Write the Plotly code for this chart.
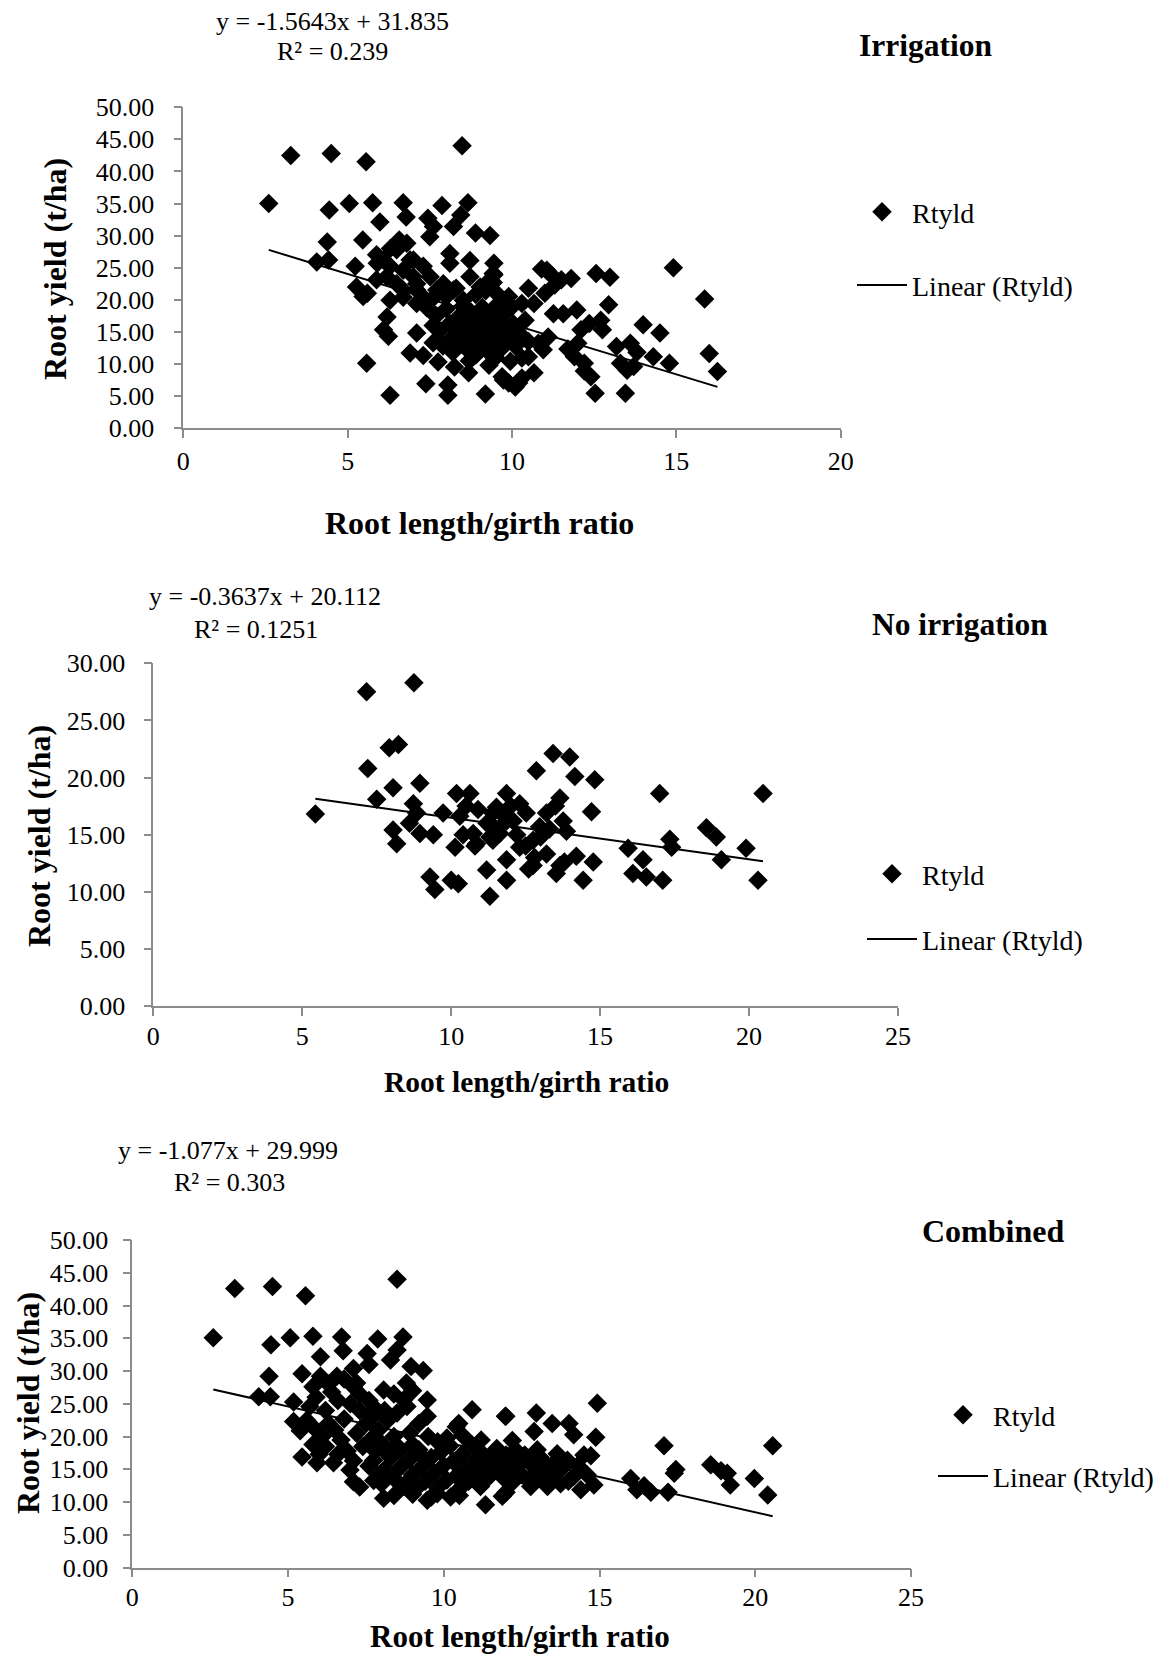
import plotly.graph_objects as go

W, H = 1171, 1658

# ---------------- data ----------------
# Irrigation (panel 1)
irr_x = [2.6, 3.27, 4.5, 5.56, 8.48, 4.44, 5.05, 5.76, 6.69, 7.87, 8.66,
         5.98, 6.78, 7.44, 8.22, 8.44, 8.89, 9.33, 4.38, 5.46, 4.06, 4.42, 5.23, 5.27, 5.47,
         8.11, 8.72, 9.45, 9.45, 6.57, 6.8, 6.3, 5.9, 5.6,
         6.09, 6.24, 5.58, 6.29, 7.38, 8.05, 9.19, 8.68, 8.05,
         7.1, 6.9, 7.3, 7.6, 9.74, 10.1,
         5.88, 6.09, 6.29, 6.49, 6.19, 5.88, 6.49, 6.69, 6.9, 7.0, 7.1, 6.69, 6.29, 6.2,
         7.0, 7.3, 7.51, 7.1, 6.69, 7.3, 7.71, 7.91, 8.11, 8.72, 9.03, 9.33, 9.53, 9.74,
         8.22, 8.52, 7.51, 7.1, 7.61, 7.5,
         7.7, 7.8, 7.9, 8.0, 8.1, 8.15, 8.2, 8.35, 8.4, 8.45, 8.5, 8.55, 8.6, 8.65, 8.75,
         8.8, 8.85, 8.9, 8.95, 9.0, 9.05, 9.1, 9.15, 9.2, 9.25, 9.35, 9.4, 9.45, 9.5, 9.55,
         9.6, 9.65, 9.7, 9.8, 9.85, 9.9, 9.95, 10.0, 10.05, 10.1, 10.2, 10.3, 10.4, 10.5,
         7.6, 7.75, 8.25, 8.7, 9.3, 7.4, 7.55, 8.0, 8.3, 8.9, 9.2,
         11.06, 10.9, 11.15, 12.56, 12.98, 14.91, 15.86, 16.0, 16.25, 13.99, 14.5, 14.79,
         14.3, 13.45, 12.53, 12.4, 12.2, 13.18, 13.6, 13.8, 13.7, 13.3, 13.5, 12.94, 12.7,
         12.75, 11.97, 11.56, 11.26, 12.35, 12.1, 12.0, 11.7, 11.9, 12.2, 11.5, 11.8, 11.3,
         11.0, 10.5, 10.67, 10.3, 9.9, 9.43, 9.43, 11.1, 10.8, 10.95, 10.5, 10.67, 10.2,
         9.7, 9.9, 10.3]
irr_y = [35.0, 42.5, 42.8, 41.5, 44.0, 34.0, 35.0, 35.1, 35.1, 34.7, 35.1,
         32.1, 32.9, 32.7, 31.4, 33.2, 30.4, 30.0, 29.0, 29.3, 25.9, 26.2, 25.2, 22.0, 20.5,
         27.2, 26.1, 25.7, 23.9, 29.3, 28.8, 28.0, 25.7, 21.0,
         15.3, 14.3, 10.1, 5.1, 6.9, 5.1, 5.3, 8.6, 6.7,
         14.8, 11.7, 11.3, 13.3, 7.5, 6.4,
         27.0, 26.2, 25.2, 27.8, 23.6, 23.1, 22.5, 24.6, 26.2, 23.6, 21.5, 20.4, 19.9, 17.3,
         26.2, 25.2, 23.6, 22.5, 21.5, 20.4, 21.5, 22.5, 25.7, 23.6, 22.0, 23.1, 21.0, 19.4,
         21.5, 19.9, 18.3, 19.4, 31.4, 29.8,
         17.5, 15.2, 12.8, 18.6, 16.3, 14.0, 11.8, 17.2, 15.5, 13.1, 19.0, 16.8, 14.6, 12.2, 18.1,
         15.9, 13.7, 11.4, 17.3, 15.1, 13.0, 18.8, 16.4, 14.2, 12.0, 17.6, 15.4, 13.4, 11.0, 19.2,
         16.6, 14.5, 12.5, 17.9, 15.7, 13.6, 10.4, 18.9, 16.2, 12.8, 14.9, 10.9, 16.8, 13.5,
         16.0, 10.3, 9.5, 10.5, 9.8, 18.8, 20.0, 20.5, 21.8, 20.8, 21.4,
         24.6, 24.8, 24.1, 24.1, 23.5, 25.0, 20.1, 11.6, 8.8, 16.1, 14.8, 10.1,
         11.1, 5.4, 5.4, 8.0, 8.9, 12.7, 13.2, 11.8, 9.6, 10.1, 9.0, 19.2, 16.8,
         15.3, 18.4, 17.8, 17.8, 16.3, 15.3, 13.2, 12.3, 11.1, 10.1, 23.1, 23.3, 22.3,
         21.0, 21.8, 19.4, 19.4, 20.5, 24.1, 22.7, 14.2, 13.2, 12.2, 11.1, 8.6, 7.0,
         8.0, 7.0, 7.8]

# No irrigation (panel 2)
noirr_x = [5.44, 7.16, 8.75, 7.92, 8.23, 7.2, 8.95, 8.05, 7.5, 8.73, 8.84, 8.6, 8.05, 8.17,
           8.95, 9.4, 9.29, 9.45, 10.0, 10.24, 10.13, 10.18, 10.63, 11.86, 9.73, 10.29,
           10.74, 10.85, 11.3, 11.19, 11.3, 11.86, 11.86, 11.52, 11.86,
           13.42, 13.98, 12.86, 14.15, 14.82, 13.65, 14.71, 17.0, 20.47, 15.94, 17.34, 17.4,
           18.57, 18.9, 19.9, 19.07, 20.3, 16.44, 16.1, 16.55, 17.1, 14.43, 14.77, 14.2,
           13.65, 13.53, 12.75, 12.3, 12.08, 12.52, 12.97, 13.2, 13.76, 13.87, 12.75, 13.2,
           12.3, 11.63, 11.4, 11.4,
           10.5, 10.9, 11.2, 11.5, 11.7, 12.0, 12.2, 12.5, 12.8, 13.0, 13.3, 13.5, 12.6,
           13.8, 10.4, 10.8]
noirr_y = [16.8, 27.5, 28.3, 22.6, 22.9, 20.8, 19.5, 19.1, 18.1, 17.7, 16.9, 16.0, 15.4, 14.2,
           15.1, 15.0, 11.3, 10.2, 11.0, 10.7, 13.9, 18.6, 18.6, 18.6, 16.9, 16.6,
           15.1, 14.2, 14.8, 11.9, 9.6, 11.0, 12.8, 17.4, 16.2,
           22.1, 21.8, 20.6, 20.1, 19.8, 18.2, 17.0, 18.6, 18.6, 13.8, 14.6, 13.9,
           15.6, 14.8, 13.8, 12.8, 11.0, 12.8, 11.6, 11.3, 11.0, 11.0, 12.6, 13.1,
           12.3, 11.6, 12.3, 17.7, 16.2, 16.9, 15.7, 16.9, 16.2, 15.3, 14.5, 13.3,
           13.9, 15.1, 14.5, 16.9,
           17.5, 17.2, 16.0, 15.5, 16.8, 17.5, 15.0, 14.0, 13.0, 14.8, 15.5, 17.5, 12.0,
           12.6, 15.0, 14.0]

# Combined (panel 3)
comb_x = [2.6, 3.29, 4.5, 5.56, 8.5, 4.45, 5.07, 5.8, 6.72, 7.88, 8.69, 6.04, 6.77, 7.54,
          8.29, 8.5, 8.95, 9.34, 4.39, 5.45, 4.06, 4.43, 5.18, 5.18, 5.39, 8.07, 8.71, 9.47,
          9.47, 6.57, 7.1, 6.04, 10.91, 11.98, 10.48, 5.45, 5.93, 6.46, 7.1, 6.99, 8.07,
          8.71, 9.47, 10.22, 11.34, 11.88, 11.18, 9.79, 7.75, 7.96, 7.75, 8.82, 8.5, 7.1,
          7.6, 6.3, 6.8, 5.9, 6.2, 5.6, 5.9, 6.3, 6.6, 7.0, 7.3, 7.5, 7.2, 6.7, 6.2, 5.8,
          6.9, 7.4, 7.9, 8.2, 8.4, 8.0, 8.6, 8.9, 9.2, 9.0, 9.5, 9.8, 9.3,
          14.93, 11.99, 12.97, 13.48, 14.02, 12.9, 14.17, 14.88, 14.72, 17.07, 20.56, 17.4,
          17.45, 18.57, 19.1, 19.2, 19.97, 20.4, 16.0, 16.43, 16.2, 16.65, 17.2, 14.4,
          14.82, 14.17, 13.75, 13.33, 12.79, 12.36, 13.0, 13.64, 13.97, 18.9,
          7.6, 7.8, 8.0, 8.1, 8.3, 8.4, 8.5, 8.6, 8.8, 8.9, 9.0, 9.1, 9.2, 9.3, 9.4, 9.6,
          9.7, 9.8, 9.9, 10.0, 10.1, 10.2, 10.3, 10.4, 10.5, 10.6, 10.7, 10.8, 10.9, 11.0,
          11.1, 11.2, 11.3, 11.4, 11.5, 11.6, 11.7, 11.8, 11.9, 12.0, 12.1, 12.2, 12.3,
          12.4, 12.5, 12.6, 12.7, 12.8, 13.0, 13.1, 13.2, 13.3, 13.5, 13.6, 13.8, 14.0,
          14.3, 14.5, 14.6, 10.6, 10.1, 11.2, 12.2, 10.4, 9.6, 10.5, 12.0, 9.0, 8.4, 7.3, 7.7,
          7.3, 7.6, 7.8, 7.2, 6.5, 6.1, 6.8, 7.7, 8.1, 8.4, 8.8, 9.0, 6.4, 5.7, 5.5, 6.0,
          6.6, 7.1, 8.2, 5.8]
comb_y = [35.1, 42.6, 42.9, 41.5, 44.0, 34.0, 35.1, 35.3, 35.2, 34.9, 35.2, 32.2, 33.1, 32.7,
          31.7, 33.2, 30.7, 30.1, 29.2, 29.6, 26.1, 26.1, 25.3, 22.3, 20.9, 27.1, 25.6, 25.6,
          23.1, 29.2, 27.6, 29.2, 24.1, 23.1, 22.0, 16.9, 16.0, 16.0, 13.1, 14.9, 10.6,
          12.4, 10.3, 10.8, 9.6, 10.9, 12.4, 11.3, 13.3, 14.3, 16.4, 24.6, 23.6, 30.4,
          31.0, 28.0, 28.8, 26.0, 24.0, 22.5, 21.0, 22.0, 25.5, 25.0, 24.0, 22.0, 20.5, 19.5,
          18.5, 18.8, 17.8, 18.5, 21.0, 22.5, 20.0, 19.0, 18.0, 20.5, 22.0, 18.8, 20.0, 19.2,
          17.0,
          25.1, 23.1, 23.6, 22.0, 22.0, 20.8, 20.3, 19.9, 17.1, 18.6, 18.6, 14.4,
          15.0, 15.7, 14.4, 12.6, 13.6, 11.1, 13.6, 12.5, 11.9, 11.5, 11.5, 11.9,
          12.6, 13.9, 12.8, 12.4, 12.4, 15.4, 18.0, 17.4, 16.4, 14.8,
          15.5, 17.8, 12.8, 15.0, 16.8, 13.6, 18.6, 15.3, 13.0, 16.5, 14.2, 12.0, 18.0, 15.4,
          13.2, 16.8, 14.4, 12.2, 17.6, 15.6, 13.4, 18.6, 16.2, 14.0, 12.0, 17.4, 15.2, 13.2,
          18.8, 16.4, 14.6, 17.6, 15.6, 13.6, 16.8, 14.8, 18.2, 16.0, 13.8, 17.2, 15.2, 13.0,
          18.0, 16.4, 14.2, 17.2, 13.4, 15.8, 14.6, 16.8, 13.2, 15.6, 14.0, 16.2, 15.2, 13.2,
          15.6, 17.2, 14.2, 20.2, 19.8, 19.5, 19.4, 21.5, 10.8, 11.0, 11.5, 11.2, 11.0, 12.3,
          19.8,
          26.5, 25.5, 24.3, 28.2, 21.0, 20.0, 22.7, 23.0, 24.0, 26.5, 28.2, 27.0, 26.8, 24.6,
          21.8, 17.3, 17.3, 16.3, 17.3, 27.6]

# Trend line coefficients shown on the chart
panels = [
    dict(name="Irrigation", x=irr_x, y=irr_y, slope=-1.5643, intercept=31.835,
         eq="y = -1.5643x + 31.835", r2="R² = 0.239", xmax=20, ymax=50),
    dict(name="No irrigation", x=noirr_x, y=noirr_y, slope=-0.3637, intercept=20.112,
         eq="y = -0.3637x + 20.112", r2="R² = 0.1251", xmax=25, ymax=30),
    dict(name="Combined", x=comb_x, y=comb_y, slope=-1.077, intercept=29.999,
         eq="y = -1.077x + 29.999", r2="R² = 0.303", xmax=25, ymax=50),
]

# ---------------- layout geometry (pixels) ----------------
boxes = [(183.3, 840.7, 107.3, 428.0),
         (153.3, 898.0, 663.3, 1006.0),
         (132.3, 911.0, 1240.0, 1567.7)]
eq_pos = [((332, 22), (332, 51)), ((265, 596), (256, 629)), ((228, 1150), (229, 1182))]
title_pos = [(926, 46), (960, 624), (993, 1231)]
title_size = [31.5, 31.5, 32]
legend_pos = [(852, 187), (862, 849), (933, 1390)]
legend_gap = [34, 26, 22]
ylab_standoff = [14, 13, 9]
xlab_standoff = [1, -2, -3]
xtitle_pos = [(479, 523), (526, 1082), (520, 1636)]
xtitle_size = [32, 29.5, 31]
ytitle_pos = [(55, 269), (39, 836), (28, 1403)]

SERIF = "Liberation Serif"
AX = "#8c8c8c"

def px2paper(x, y):
    return x / W, 1 - y / H

fig = go.Figure()
annotations = []
layout_axes = {}

for i, (p, box) in enumerate(zip(panels, boxes)):
    n = i + 1
    xa = "x" if n == 1 else f"x{n}"
    ya = "y" if n == 1 else f"y{n}"
    leg = "legend" if n == 1 else f"legend{n}"
    fig.add_trace(go.Scatter(
        x=p["x"], y=p["y"], mode="markers", name="Rtyld",
        marker=dict(symbol="diamond", size=15, color="black", line=dict(width=0)),
        xaxis=xa, yaxis=ya, legend=leg, legendgroup=f"g{n}a"))
    x0, x1 = min(p["x"]), max(p["x"])
    fig.add_trace(go.Scatter(
        x=[x0, x1], y=[p["slope"] * x0 + p["intercept"], p["slope"] * x1 + p["intercept"]],
        mode="lines", name="Linear (Rtyld)", line=dict(color="black", width=2),
        xaxis=xa, yaxis=ya, legend=leg, legendgroup=f"g{n}b"))

    l, r, t, b = box
    xd = [l / W, r / W]
    yd = [1 - b / H, 1 - t / H]
    common = dict(showline=True, linecolor=AX, linewidth=1.5, ticks="outside", ticklen=8,
                  tickwidth=1.5, tickcolor=AX, showgrid=False, zeroline=False,
                  tickfont=dict(family=SERIF, size=26, color="black"))
    layout_axes["xaxis" if n == 1 else f"xaxis{n}"] = dict(
        domain=xd, range=[0, p["xmax"]], dtick=5, tick0=0, anchor=ya,
        ticklabelstandoff=xlab_standoff[i], **common)
    layout_axes["yaxis" if n == 1 else f"yaxis{n}"] = dict(
        domain=yd, range=[0, p["ymax"]], dtick=5, tick0=0, anchor=xa,
        tickformat=".2f", ticklabelstandoff=ylab_standoff[i], **common)

    lx, ly = px2paper(*legend_pos[i])
    layout_axes[leg] = dict(x=lx, y=ly, xanchor="left", yanchor="top",
                            font=dict(family=SERIF, size=28, color="black"),
                            bgcolor="rgba(0,0,0,0)", tracegroupgap=legend_gap[i], itemwidth=50)

    (e1, e2) = eq_pos[i]
    for (tx, ty), txt in ((e1, p["eq"]), (e2, p["r2"])):
        ax_, ay_ = px2paper(tx, ty)
        annotations.append(dict(x=ax_, y=ay_, xref="paper", yref="paper", text=txt,
                                showarrow=False, xanchor="center", yanchor="middle",
                                font=dict(family=SERIF, size=26, color="black")))
    tx, ty = px2paper(*title_pos[i])
    annotations.append(dict(x=tx, y=ty, xref="paper", yref="paper", text=f"<b>{p['name']}</b>",
                            showarrow=False, xanchor="center", yanchor="middle",
                            font=dict(family=SERIF, size=title_size[i], color="black")))
    tx, ty = px2paper(*xtitle_pos[i])
    annotations.append(dict(x=tx, y=ty, xref="paper", yref="paper",
                            text="<b>Root length/girth ratio</b>",
                            showarrow=False, xanchor="center", yanchor="middle",
                            font=dict(family=SERIF, size=xtitle_size[i], color="black")))
    tx, ty = px2paper(*ytitle_pos[i])
    annotations.append(dict(x=tx, y=ty, xref="paper", yref="paper",
                            text="<b>Root yield (t/ha)</b>", textangle=-90,
                            showarrow=False, xanchor="center", yanchor="middle",
                            font=dict(family=SERIF, size=32, color="black")))

fig.update_layout(
    width=W, height=H, margin=dict(l=0, r=0, t=0, b=0, pad=0, autoexpand=False),
    font=dict(family=SERIF, color="black"),
    paper_bgcolor="white", plot_bgcolor="white",
    showlegend=True, annotations=annotations, **layout_axes)

fig.write_html("out.html")
